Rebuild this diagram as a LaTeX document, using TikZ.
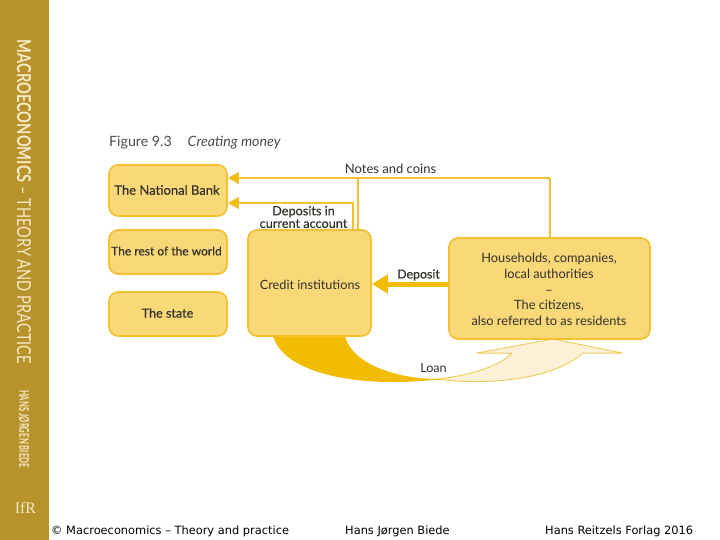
\documentclass[tikz,border=0pt]{standalone}
\usepackage{fontspec}
\usepackage{graphicx}
\setmainfont{Lato}
\newfontfamily\medfont[FakeBold=0.35]{Lato}
\newfontfamily\footfont{DejaVu Sans}
\newfontfamily\logofont{Liberation Serif}
\usetikzlibrary{arrows.meta}
\definecolor{side}{HTML}{B8922A}
\definecolor{sidetext}{HTML}{F5E9C6}
\definecolor{boxfill}{HTML}{F9D878}
\definecolor{boxline}{HTML}{F3C12F}
\definecolor{dark}{HTML}{F2BC00}
\definecolor{lite}{HTML}{FCF1D6}
\definecolor{arrowline}{HTML}{F0CE60}
\definecolor{ink}{HTML}{33302A}
\tikzset{
  card/.style={draw=boxline,fill=boxfill,line width=1.6pt,rounded corners=9pt,align=center,text=ink,inner sep=0pt},
  lab/.style={text=ink,align=center,inner sep=0pt,font=\fontsize{12}{13}\selectfont},
  flow/.style={draw=boxline,line width=1.5pt},
  tipsmall/.style={-{Triangle[length=11pt,width=12pt,fill=dark]}},
  spine/.style={text=sidetext,inner sep=0pt,anchor=center,rotate=-90},
  foot/.style={text=black,inner sep=0pt,font=\footfont\fontsize{11.4}{13}\selectfont}
}
\begin{document}
\begin{tikzpicture}[x=1pt,y=-1pt]
\useasboundingbox (0,0) rectangle (720,540);
\fill[white] (0,0) rectangle (720,540);
\fill[side] (0,0) rectangle (49,540);
\node[spine] (s1) at (24,202) {\resizebox{324pt}{14pt}{\textbf{MACROECONOMICS} – THEORY AND PRACTICE}};
\node[spine] (s2) at (24,429) {\resizebox{78pt}{10pt}{\textbf{HANS JØRGEN BIEDE}}};
\node[text=sidetext,inner sep=0pt] (logo) at (25.5,507.5) {\logofont\fontsize{16}{17}\selectfont IfR};

\node[text=ink,anchor=west,inner sep=0pt,font=\fontsize{14.2}{15}\selectfont] (title) at (109,143) {\color{black!70}Figure 9.3\hspace{16pt}\textit{Creating money}};

% loan arrow
\fill[lite,draw=arrowline,line width=1pt] (437,379) .. controls (480,385) and (550,382) .. (583,353)
  -- (622,353) -- (553,339) -- (477,353) -- (512,353) .. controls (498,368) and (465,376) .. (437,379) -- cycle;
\fill[dark] (273,336) .. controls (282,370) and (350,390) .. (442,379)
  .. controls (400,380) and (352,365) .. (345,336) -- cycle;

\node[card,minimum width=118pt,minimum height=51pt] (nb) at (168,190.5) {};
\node[card,minimum width=118pt,minimum height=44pt] (rw) at (168,252) {};
\node[card,minimum width=118pt,minimum height=44pt] (st) at (168,314) {};
\node[card,minimum width=123pt,minimum height=106pt] (ci) at (309.5,283) {};
\node[card,minimum width=201pt,minimum height=101pt] (hh) at (549.5,288.5) {};

\node[lab,font=\medfont\fontsize{13}{14}\selectfont] (nbt) at (167,190) {The National Bank};
\node[lab,font=\medfont\fontsize{12}{13}\selectfont] (rwt) at (166.5,251) {The rest of the world};
\node[lab,font=\medfont\fontsize{12.6}{13}\selectfont] (stt) at (167.5,313) {The state};
\node[lab,font=\fontsize{12.7}{13}\selectfont] (cit) at (310,285) {Credit institutions};
\node[lab,font=\fontsize{12.8}{15.8}\selectfont] (hht) at (549,289.5) {Households, companies,\\local authorities\\–\\The citizens,\\also referred to as residents};

\node[lab,font=\fontsize{13}{14}\selectfont] (notes) at (390.5,169) {Notes and coins};
\node[lab,font=\medfont\fontsize{12.7}{12.6}\selectfont] (dep) at (303.5,217) {Deposits in\\current account};
\node[lab,font=\medfont\fontsize{12.4}{13}\selectfont] (depo) at (418.5,275) {Deposit};
\node[lab,font=\fontsize{12.6}{13}\selectfont] (loan) at (433.5,368) {Loan};

\coordinate (nbtop) at (nb.east |- 0,178);
\coordinate (nblow) at (nb.east |- 0,203);
\coordinate (hhv) at (550,0);
\coordinate (civ1) at (358,0);
\coordinate (civ2) at (353,0);
\draw[flow] (hh.north -| hhv) -- (hhv |- nbtop);
\draw[flow,tipsmall] (hhv |- nbtop) -- (nbtop);
\draw[flow] (ci.north -| civ1) -- (civ1 |- nbtop);
\draw[flow,tipsmall] (ci.north -| civ2) |- (nblow);
\draw[draw=dark,line width=5pt,-{Triangle[length=16pt,width=18pt,fill=dark]}] (hh.west |- 0,284) -- (ci.east |- 0,284);

\node[foot,anchor=west] (f1) at (51,531) {© Macroeconomics – Theory and practice};
\node[foot,anchor=west] (f2) at (345,531) {Hans Jørgen Biede};
\node[foot,anchor=west] (f3) at (545,531) {Hans Reitzels Forlag 2016};
\end{tikzpicture}
\end{document}
